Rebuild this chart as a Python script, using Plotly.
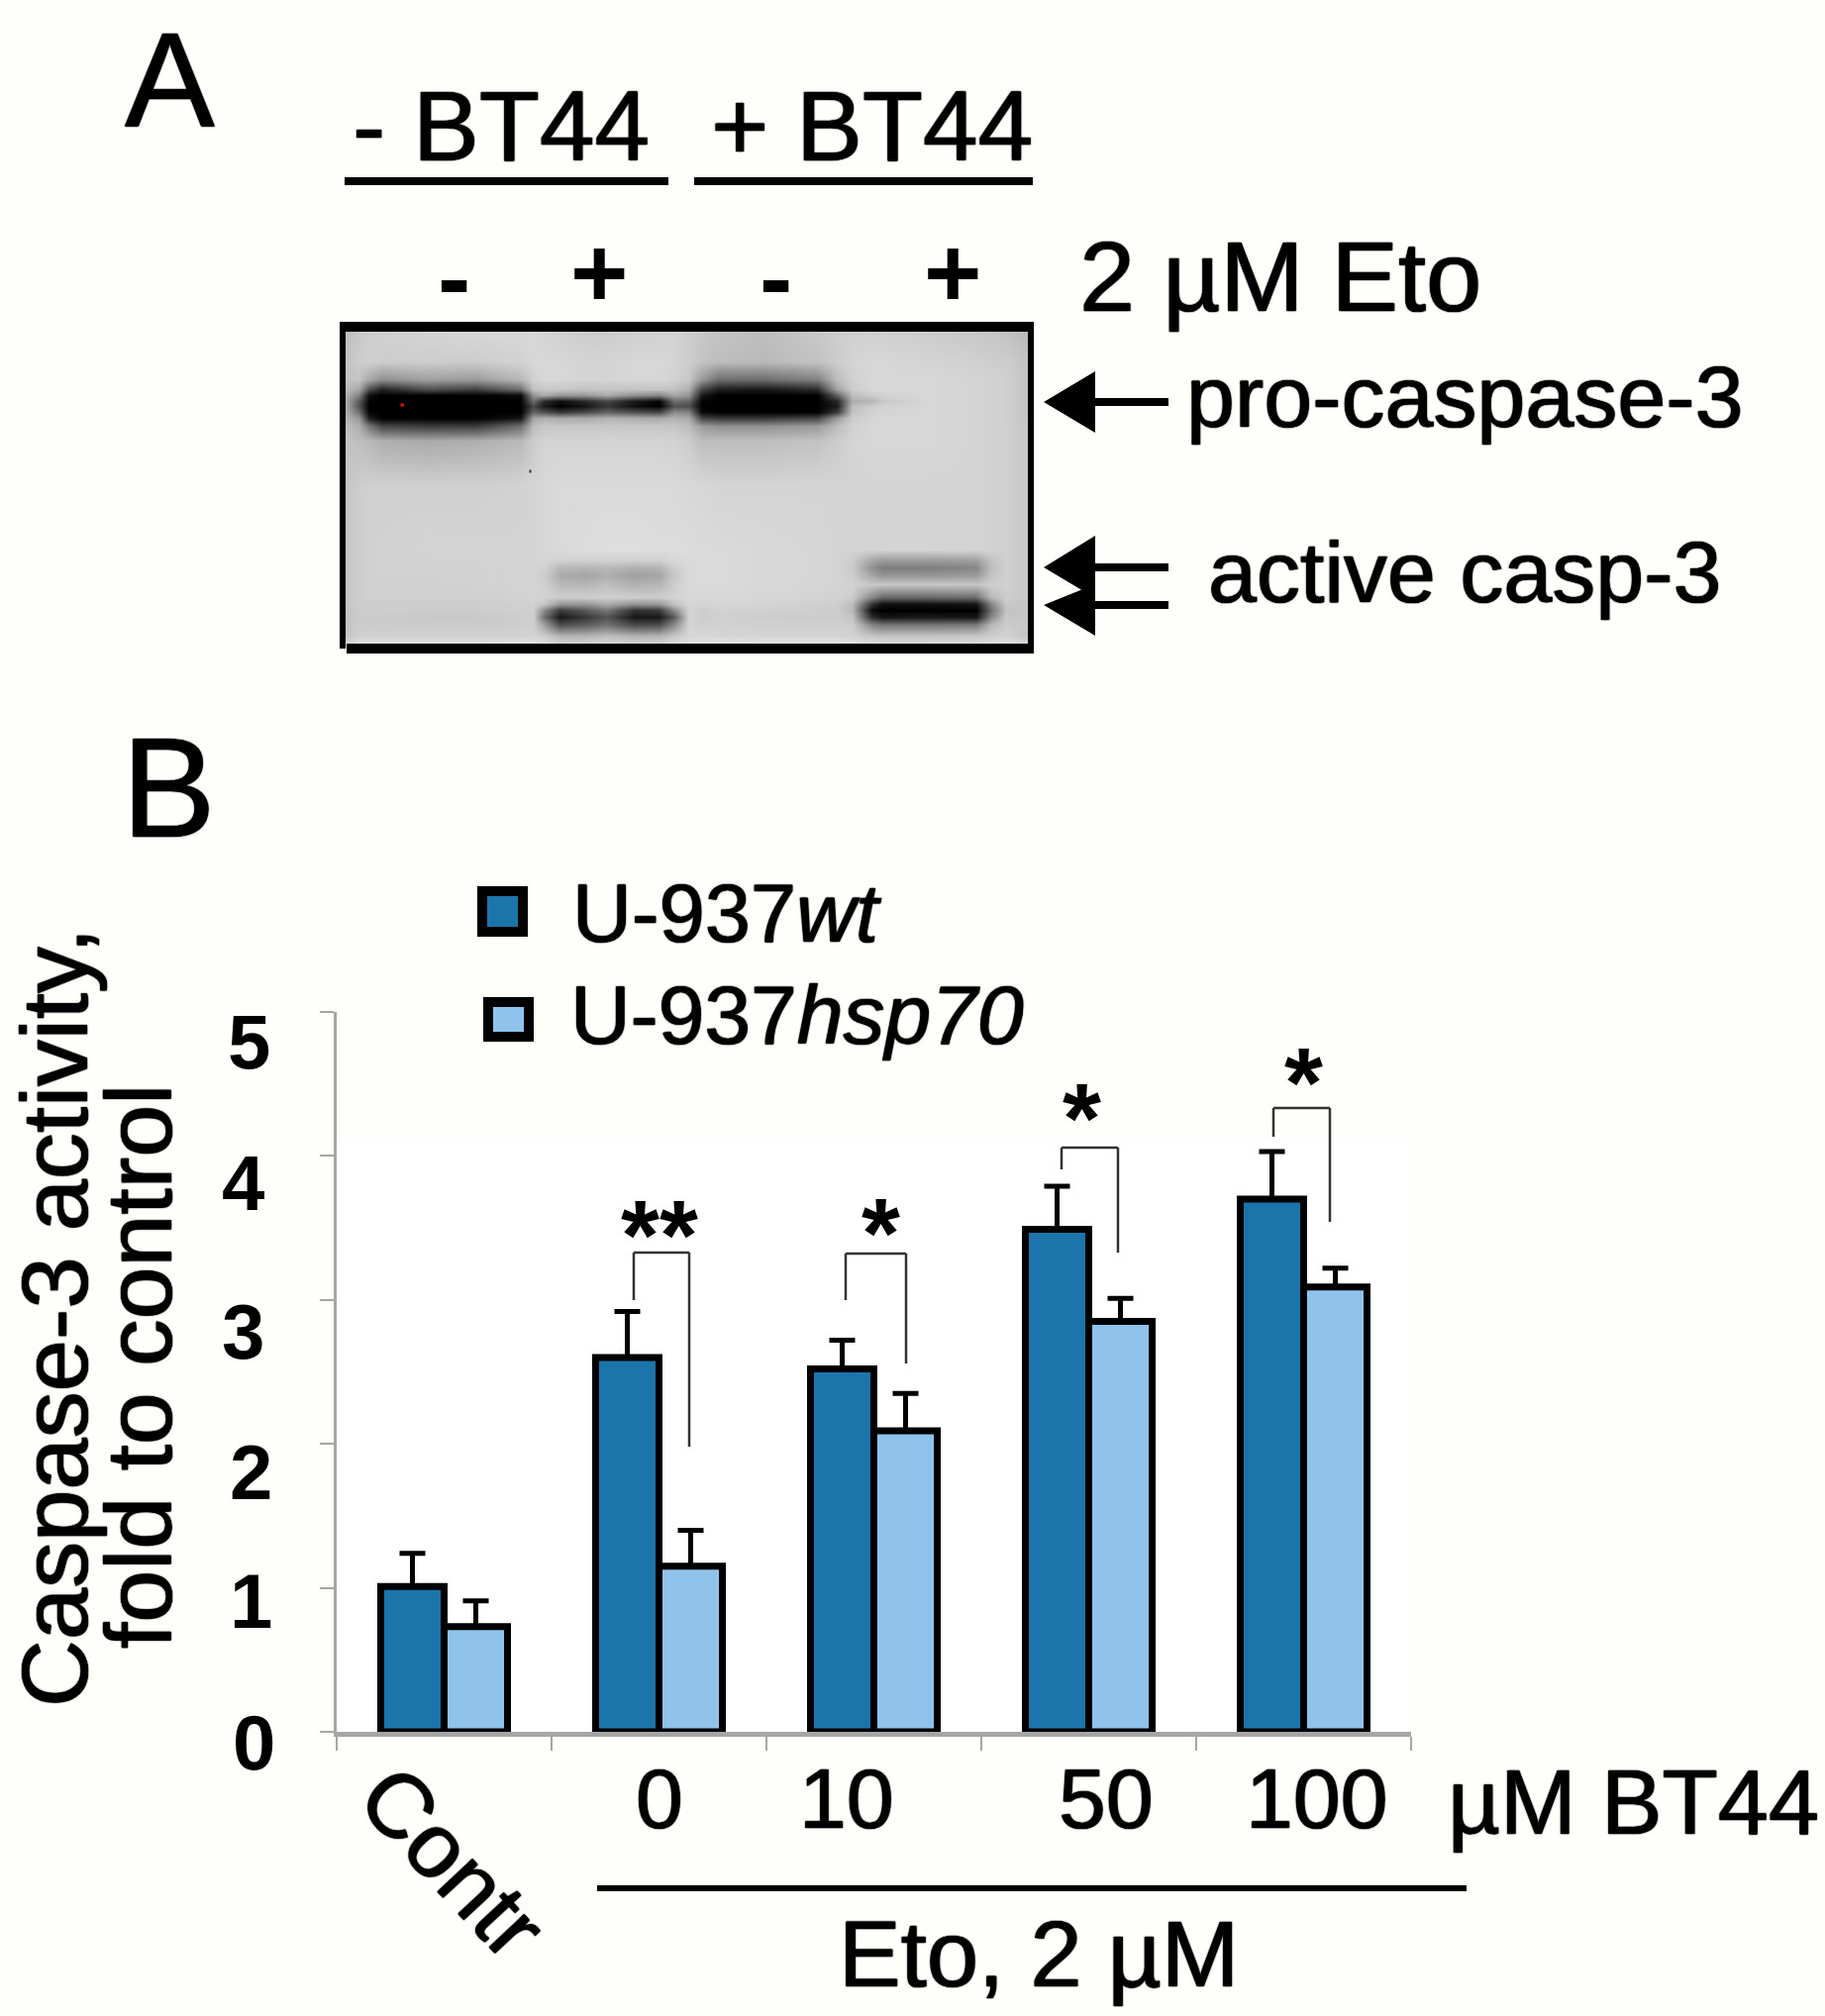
import plotly.graph_objects as go

W, H = 1843, 2036
FONT = "Liberation Sans, Arial, sans-serif"
PAPER = "#FEFEFB"

# --- bar chart data (panel B)
categories = ["Contr", "0", "10", "50", "100"]
wt_values = [1.01, 2.60, 2.52, 3.49, 3.70]
wt_err_top = [1.24, 2.92, 2.72, 3.79, 4.03]
hsp_values = [0.73, 1.15, 2.09, 2.85, 3.09]
hsp_err_top = [0.91, 1.40, 2.35, 3.01, 3.22]
y_ticks = [0, 1, 2, 3, 4, 5]
DARK, LIGHT = "#1B75AB", "#8FC3EC"

# --- western blot, grey levels
blot_x = [349,362,372,385,430,480,525,538,549,565,590,612,640,665,680,695,708,725,770,825,845,860,880,890,935,985,1000,1015,1038]
blot_y = [335,365,383,393,399,405,410,416,422,430,445,490,555,566,573,581,590,603,610,616,623,631,642,655]
blot_z = [
[190,200,205,208,212,215,215,215,212,210,205,205,208,210,212,205,200,195,190,200,205,208,208,208,205,200,198,195,185],
[195,205,208,205,205,205,210,215,215,215,212,212,215,215,212,205,195,190,185,195,205,212,215,215,212,208,205,205,195],
[195,195,170,145,160,155,185,210,215,215,212,212,215,215,210,200,155,110,110,130,190,210,215,215,215,212,210,208,195],
[185,165,80,35,80,65,110,195,200,200,195,198,195,195,195,175,70,30,25,45,165,205,215,215,215,212,210,208,195],
[175,130,15,0,0,0,10,150,170,150,150,170,145,135,165,150,25,0,0,0,100,190,205,210,215,212,210,208,195],
[170,90,5,0,0,0,0,110,40,15,40,70,25,5,110,100,5,0,0,0,40,175,180,200,215,212,210,208,195],
[170,80,0,0,0,0,0,70,25,0,20,55,15,0,80,80,0,0,0,0,30,190,205,210,215,212,210,208,195],
[175,110,5,0,0,0,0,100,80,55,75,100,80,70,140,130,10,0,0,0,60,195,210,212,215,212,210,208,195],
[180,150,30,0,0,0,20,165,175,170,170,178,172,170,178,170,70,55,55,70,155,205,212,215,215,212,210,208,195],
[190,175,120,70,60,60,110,190,200,198,198,200,198,198,198,190,155,145,145,155,190,210,215,215,215,212,210,208,198],
[195,190,185,175,170,175,185,205,212,212,212,212,212,212,210,205,190,190,190,195,205,212,215,215,215,212,210,208,198],
[198,205,208,208,208,208,210,212,215,218,218,218,218,218,218,215,215,212,212,212,212,212,212,212,212,212,210,208,198],
[198,205,208,210,212,212,212,212,215,218,220,222,222,220,220,220,218,218,216,214,212,212,212,212,212,212,210,208,198],
[198,205,208,210,210,212,212,212,215,208,208,208,206,208,216,218,218,218,216,214,212,205,165,155,155,158,195,208,198],
[198,205,208,210,210,210,212,212,210,185,180,186,176,180,205,218,218,218,216,214,212,203,145,125,125,135,190,208,198],
[198,205,208,210,210,210,212,212,205,170,165,175,160,165,200,218,218,218,216,214,212,205,165,150,150,155,195,208,198],
[198,205,208,208,208,210,212,212,208,185,182,190,176,182,206,218,218,218,216,214,212,210,200,198,198,198,206,208,198],
[198,205,208,208,208,208,210,212,210,205,205,208,205,205,210,216,216,216,214,212,210,205,135,105,105,110,185,205,198],
[198,205,205,205,205,205,208,210,195,150,150,170,145,150,195,214,212,214,212,208,205,190,50,15,15,20,130,200,198],
[195,205,205,205,205,205,208,208,140,60,90,120,50,60,140,212,205,210,208,206,205,185,10,0,0,0,110,195,198],
[195,203,203,203,200,200,205,208,110,25,55,85,22,25,90,212,205,208,205,204,205,195,45,20,25,20,135,200,198],
[195,205,205,205,203,203,206,208,160,80,95,115,75,80,140,212,208,210,208,208,208,205,135,120,120,125,185,205,198],
[198,208,208,208,208,208,210,212,205,180,180,190,178,180,200,214,214,214,212,212,212,210,200,195,195,198,205,210,198],
[225,230,232,232,232,232,232,232,232,232,232,232,232,232,232,232,232,232,232,232,232,232,232,232,232,232,232,232,222],
]

fig = go.Figure()

def err(tops, vals):
    return [t - v for t, v in zip(tops, vals)]

def bar(name, vals, tops, color):
    fig.add_trace(go.Bar(
        name=name, x=categories, y=vals, xaxis="x", yaxis="y",
        marker=dict(color=color, line=dict(color="black", width=7)),
        error_y=dict(type="data", symmetric=False, array=err(tops, vals),
                     arrayminus=[0] * len(vals), color="black", thickness=5, width=13),
    ))

bar("U-937wt", wt_values, wt_err_top, DARK)
bar("U-937hsp70", hsp_values, hsp_err_top, LIGHT)

fig.add_trace(go.Heatmap(
    x=blot_x, y=blot_y, z=blot_z, xaxis="x2", yaxis="y2",
    colorscale=[[0, "#000000"], [1, "#ffffff"]], zmin=0, zmax=255,
    zsmooth="best", showscale=False, hoverinfo="skip",
))

shapes = []

def rect(x0, y0, x1, y1, color="black"):
    shapes.append(dict(type="rect", xref="x2", yref="y2", x0=x0, y0=y0, x1=x1, y1=y1,
                       fillcolor=color, line=dict(width=0)))

def line(x0, y0, x1, y1, width, color="black"):
    shapes.append(dict(type="line", xref="x2", yref="y2", x0=x0, y0=y0, x1=x1, y1=y1,
                       line=dict(color=color, width=width)))

def path(d, color="black"):
    shapes.append(dict(type="path", xref="x2", yref="y2", path=d, fillcolor=color,
                       line=dict(width=0)))

# white field behind the bars, under every subplot
shapes.append(dict(type="rect", xref="paper", yref="paper", x0=340 / W, x1=1425 / W,
                   y0=1 - 1749 / H, y1=1 - 1150 / H, fillcolor="#FFFFFF",
                   line=dict(width=0), layer="below"))

# trim the heatmap's outer half cells, then the blot frame
rect(330, 310, 1060, 325, PAPER)
rect(330, 660, 1060, 680, PAPER)
rect(330, 310, 343, 680, PAPER)
rect(1044, 310, 1060, 680, PAPER)
rect(343, 655, 350, 660, PAPER)
rect(343, 325, 1044, 335)
rect(350, 650, 1044, 660)
rect(343, 325, 349, 655)
rect(1038, 325, 1044, 660)
rect(404.5, 407.5, 408, 410.5, "#E01010")
rect(534.5, 474.5, 536.5, 477.5, "#333333")

# bars above the blot
line(348, 183, 675, 183, 8)
line(701, 183, 1043, 183, 8)

# arrows
for yc, top, bottom in [(406, 375, 437), (573, 541, 604), (611, 590, 642)]:
    line(1100, yc, 1180, yc, 8)
    path(f"M 1054 {yc} L 1106 {top} L 1106 {bottom} Z")

# significance brackets (left-bottom, top, right-bottom)
brackets = [(640, 1313, 1265, 696, 1461), (854, 1313, 1266, 915, 1377),
            (1072, 1181, 1159, 1129, 1265), (1286, 1148, 1119, 1343, 1234)]
for xl, yl, yt, xr, yr in brackets:
    line(xl, yl, xl, yt, 2.5, "#333333")
    line(xl, yt, xr, yt, 2.5, "#333333")
    line(xr, yt, xr, yr, 2.5, "#333333")

# legend swatches
for x0, y0, x1, y1, c in [(487, 900, 528, 941, DARK), (493, 1012, 534, 1047, LIGHT)]:
    shapes.append(dict(type="rect", xref="x2", yref="y2", x0=x0, y0=y0, x1=x1, y1=y1,
                       fillcolor=c, line=dict(color="black", width=10)))

# Eto underline
line(603, 1907, 1481, 1907, 6)

annotations = []
HEAVY = "0 0 1.5px #000, 0.6px 0 1px #000, -0.6px 0 1px #000"

def text(x, y, s, size, bold=False, angle=0, anchor="center"):
    f = dict(family=FONT, size=size, color="black")
    if not bold:
        f["shadow"] = HEAVY
    annotations.append(dict(
        xref="x2", yref="y2", x=x, y=y, text=f"<b>{s}</b>" if bold else s, showarrow=False,
        xanchor=anchor, yanchor="middle", textangle=angle, font=f,
    ))

text(171, 80, "A", 136)
text(170, 795, "B", 142)
text(506, 127, "- BT44", 100)
text(880, 127, "+ BT44", 100)
text(458, 280, "-", 100, True)
text(605, 275, "+", 100, True)
text(783, 280, "-", 100, True)
text(962, 275, "+", 100, True)
text(1293, 279, "2 µM Eto", 101)
text(1479, 400, "pro-caspase-3", 88)
text(1479, 577, "active casp-3", 88)

text(576, 922, "U-937<i>wt</i>", 83, anchor="left")
text(574, 1025, "U-937<i>hsp70</i>", 84, anchor="left")

# y tick labels sit a little below their ticks in the reference
ylab_pos = [(256, 1760), (253, 1617), (253, 1487), (245, 1345), (245, 1195), (251, 1052)]
for v, (x, y) in zip(y_ticks, ylab_pos):
    text(x, y, str(v), 78, True)

text(55, 1331, "Caspase-3 activity,", 94, False, -90)
text(140, 1380, "fold to control", 95, False, -90)

text(457, 1880, categories[0], 92, False, 47)
for c, x in zip(categories[1:], [666, 855, 1117, 1330]):
    text(x, 1816, c, 86)
text(1649, 1820, "µM BT44", 92)
text(1049, 1973, "Eto, 2 µM", 94)

for s, x, y in [("**", 666, 1247), ("*", 889, 1245), ("*", 1092, 1129), ("*", 1316, 1093)]:
    text(x, y, s, 100, True)

fig.update_layout(
    width=W, height=H, autosize=False, margin=dict(l=0, r=0, t=0, b=0, pad=0),
    paper_bgcolor=PAPER, plot_bgcolor="rgba(0,0,0,0)", showlegend=False,
    barmode="group", bargap=0.41, bargroupgap=0,
    xaxis=dict(domain=[340 / W, 1425 / W], range=[-0.5, 4.5], type="category",
               categoryorder="array", categoryarray=categories, showgrid=False,
               showline=True, linecolor="#A6A6A6", linewidth=5, ticks="outside",
               tickson="boundaries", ticklen=14, tickwidth=2, tickcolor="#A6A6A6",
               showticklabels=False, anchor="y", zeroline=False),
    yaxis=dict(domain=[1 - 1749 / H, 1 - 1022 / H], range=[0, 5], tickvals=y_ticks,
               showgrid=False, showline=True, linecolor="#A6A6A6", linewidth=3,
               ticks="outside", ticklen=14, tickwidth=2, tickcolor="#A6A6A6",
               showticklabels=False, anchor="x", zeroline=False),
    xaxis2=dict(domain=[0, 1], range=[0, W], visible=False, anchor="y2", fixedrange=True),
    yaxis2=dict(domain=[0, 1], range=[H, 0], visible=False, anchor="x2", fixedrange=True),
    shapes=shapes, annotations=annotations,
)

fig.write_html("out.html", config={"displayModeBar": False},
               post_script="document.body.style.margin='0';")
